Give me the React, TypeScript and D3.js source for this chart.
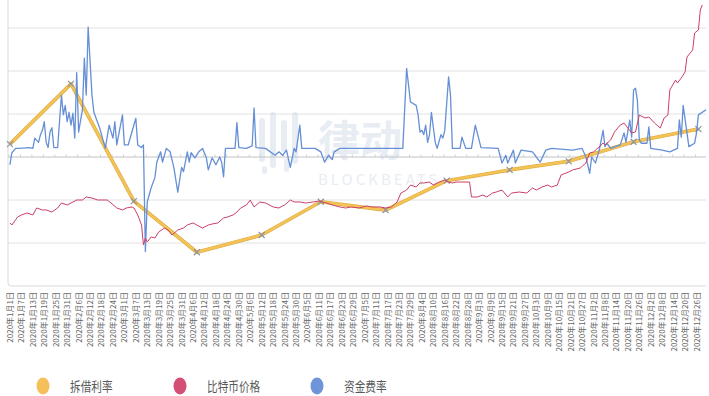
import React from 'react';
import * as d3 from 'd3';

// 拆借利率 (monthly points), day index from 2020-01-01
const lendDays = [0, 32, 65, 98, 132, 163, 197, 229, 262, 293, 327, 361];
const lendRate = [6.6, 9.4, 3.95, 1.57, 2.37, 3.92, 3.53, 4.9, 5.4, 5.8, 6.71, 7.3];

// 比特币价格 (USD)
const btcDays = [0, 1, 4, 6, 9, 12, 14, 17, 19, 22, 25, 27, 30, 32, 35, 38, 40, 43, 46, 48, 51, 53, 56, 59, 61, 64, 65, 67, 69, 70,
  71, 72, 74, 76, 78, 81, 83, 85, 88, 91, 93, 96, 98, 101, 104, 106, 109, 112, 114, 117, 119, 121, 124, 126, 128, 131, 134, 138,
  141, 144, 147, 149, 152, 155, 159, 162, 166, 169, 173, 176, 179, 183, 187, 190, 194, 197, 200, 203, 205, 208, 210, 213, 215,
  217, 220, 222, 225, 228, 230, 232, 234, 237, 241, 242, 245, 248, 250, 253, 255, 258, 261, 263, 267, 271, 274, 276, 279, 282,
  284, 287, 289, 293, 295, 299, 302, 304, 306, 307, 309, 311, 312, 315, 317, 320, 322, 324, 326, 328, 330, 333, 335, 338, 341,
  343, 345, 346, 349, 350, 352, 354, 355, 358, 359, 361, 362, 363];
const btcPrice = [7330, 7090, 8020, 8260, 8490, 8260, 9070, 8840, 8840, 8600, 9070, 9650, 9420, 9650, 10000, 10000, 10350, 10230,
  10000, 10000, 10000, 9650, 9070, 8840, 9070, 9190, 9070, 8260, 7090, 4770,
  5580, 5120, 5700, 5580, 6280, 6740, 6510, 5930, 6510, 6740, 7090, 7330, 7090, 6740, 7090, 7210, 7330, 7910, 8020, 8260, 8600,
  9070, 9420, 10000, 9190, 9770, 9650, 9190,
  9070, 9420, 10000, 9770, 9770, 9650, 9770, 9880, 9650, 9420, 9190, 9070, 9190, 9070, 9300, 9190, 9190, 9070, 9190, 9770,
  10810, 11160, 11740, 11510, 11980,
  11980, 12090, 11740, 12090, 12330, 12090, 11980, 12090, 12090, 12090, 10350, 10350, 10580, 10350, 10810, 10930, 11160, 10350,
  10810, 10930, 10810, 11400, 11160, 11510, 11740,
  11510, 11740, 12910, 13260, 13490, 13720, 14300, 15470, 15580, 15810, 16160, 16630, 16400, 16980, 17910, 18720, 18950, 18370,
  17790, 17910, 19880, 19530, 19650, 18950, 18370,
  19530, 19880, 22790, 23950, 23600, 24190, 24880, 26630, 27440, 29420, 29770, 32090, 32670];

// 资金费率 (%)
const fundDays = [0, 1, 3, 5, 10, 12, 13, 15, 16, 17, 18, 19, 20, 21, 22, 23, 25, 27, 28, 29, 30, 31, 32, 33, 34, 35, 36, 38,
  39, 40, 41, 43, 44, 47, 50, 52, 54, 55, 56, 59, 60, 62, 66, 67, 69, 70, 71, 72, 74, 76, 77, 79, 80, 82, 84, 86, 88, 90, 91,
  93, 94, 95, 97, 99, 101, 103, 104, 106, 108, 110, 111, 112, 113, 118, 119, 120, 124, 127, 128, 129, 134, 139, 141, 143, 145,
  147, 149, 150, 152, 153, 160, 163, 165, 167, 169, 170, 173, 206, 208, 210, 213, 214, 215, 216, 217, 218, 219, 220, 221, 223,
  224, 226, 227, 228, 230, 231, 232, 236, 237, 239, 242, 244, 247, 256, 258, 260, 261, 264, 265, 268, 274, 278, 281, 284, 295,
  300, 302, 304, 305, 307, 309, 311, 312, 313, 315, 320, 322, 323, 325, 326, 327, 328, 329, 330, 331, 334, 335, 336, 342, 346,
  350, 351, 352, 353, 355, 356, 359, 360, 361, 365];
const fundRate = [-0.009, 0.005, 0.01, 0.01, 0.011, 0.01, 0.022, 0.017, 0.026, 0.031, 0.041, 0.017, 0.011, 0.029, 0.034, 0.011,
  0.011, 0.072, 0.049, 0.06, 0.041, 0.052, 0.037, 0.051, 0.022, 0.098, 0.029, 0.055,
  0.115, 0.072, 0.151, 0.072, 0.052, 0.034, 0.01, 0.037, 0.022, 0.041, 0.014, 0.049, 0.014, 0.014, 0.045, 0.014, 0.011, 0.014,
  -0.11, -0.052, -0.036, -0.024, -0.006, 0.006, -0.006, 0.01, 0.006, -0.013, -0.041, -0.012, -0.017,
  0.006, -0.006, 0.005, -0.001, 0.006, 0.01, -0.001, -0.015, -0.001, -0.009, 0, -0.006, -0.023, 0.01, 0.01, 0.04, 0.011, 0.01,
  0.013, 0.057, 0.011, 0.01, 0.002, 0.006, 0.002, 0.008,
  -0.012, 0.01, 0.006, 0.037, 0.01, 0.01, 0.006, -0.006, 0.002, -0.003, 0.006, 0.01, 0.01, 0.103, 0.064, 0.06, 0.049, 0.029,
  0.031, 0.026, 0.037, 0.017, 0.026, 0.052, 0.017,
  0.01, 0.026, 0.022, 0.031, 0.093, 0.072, 0.01, 0.01, 0.023, 0.01, 0.01, 0.037, 0.011, 0.01, -0.007, 0.002, -0.007, 0.008,
  -0.007, 0.008, 0.006, -0.006, 0.008, 0.01, 0.008,
  0.01, 0, -0.019, 0, -0.007, 0.008, 0.031, 0.012, 0.016, 0.01, 0.014, 0.028, 0.017, 0.043, 0.023, 0.078, 0.08, 0.066, 0.02,
  0.016, 0.016, 0.035, 0.01, 0.008, 0.006,
  0.01, 0.043, 0.023, 0.06, 0.028, 0.012, 0.016, 0.028, 0.049, 0.055];

const legendNames = ['拆借利率', '比特币价格', '资金费率'];
const legendColors = ['#F5C05A', '#D44F76', '#6E95DA'];

const start = new Date(2020, 0, 1);
const labelDays = d3.range(0, 366, 6);
const fmtDay = (d: number) => {
  const t = d3.timeDay.offset(start, d);
  return `2020年${t.getMonth() + 1}月${t.getDate()}日`;
};

const font = '"Noto Sans CJK SC", "Noto Sans", sans-serif';

export default function App() {
  const x = d3.scaleLinear().domain([-0.5, 365.5]).range([9, 707]);
  const yBtc = d3.scaleLinear().domain([0, 30000]).range([286, 28]);
  const yFund = d3.scaleLinear().domain([-0.15, 0.15]).range([286, 28]);
  const yLend = d3.scaleLinear().domain([0, 12]).range([286, 28]);

  const lendLine = d3.line<number>().x((_, i) => x(lendDays[i])).y(v => yLend(v));
  const btcLine = d3.line<number>().x((_, i) => x(btcDays[i])).y(v => yBtc(v));
  const fundLine = d3.line<number>().x((_, i) => x(fundDays[i])).y(v => yFund(v));

  const gridVals = d3.range(5000, 30001, 5000);
  const zeroY = yFund(0);

  return (
    <svg width={709} height={396} style={{ position: 'absolute', left: 0, top: 0, background: '#fff' }}>
      {/* grid */}
      {gridVals.map(v => (
        <line key={v} x1={8} x2={706} y1={yBtc(v)} y2={yBtc(v)} stroke="#e2e2e2" strokeWidth={1} />
      ))}
      <path d={`M8,0 V283 Q8,286 11,286 H706`} fill="none" stroke="#d9d9d9" strokeWidth={1} />
      <line x1={8} x2={706} y1={zeroY} y2={zeroY} stroke="#d0d0d0" strokeWidth={1} />
      {labelDays.map(d => (
        <line key={d} x1={x(d - 0.5)} x2={x(d - 0.5)} y1={zeroY - 2.5} y2={zeroY} stroke="#d0d0d0" strokeWidth={1} />
      ))}

      {/* watermark */}
      <g opacity={0.38} fill="#c3cfe2">
        <rect x={259} y={118} width={6} height={44} rx={3} />
        <rect x={270} y={112} width={6} height={56} rx={3} />
        <rect x={281} y={120} width={6} height={32} rx={3} />
        <rect x={292} y={112} width={6} height={52} rx={3} />
        <rect x={262} y={166} width={5} height={8} rx={2.5} />
        <rect x={284} y={158} width={5} height={14} rx={2.5} />
        <text x={318} y={156} fontSize={42} fontFamily={font} fontWeight="bold">律动</text>
        <text x={318} y={185} fontSize={15} fontFamily={font} letterSpacing={3}>BLOCKBEATS</text>
      </g>

      {/* series */}
      <path d={lendLine(lendRate) || ''} fill="none" stroke="#dcaa40" strokeWidth={3.6} strokeLinejoin="round" />
      <path d={lendLine(lendRate) || ''} fill="none" stroke="#f4c356" strokeWidth={2.4} strokeLinejoin="round" />
      {lendRate.map((v, i) => {
        const cx = x(lendDays[i]), cy = yLend(v);
        return (
          <path key={i} d={`M${cx - 3},${cy - 3}L${cx + 3},${cy + 3}M${cx - 3},${cy + 3}L${cx + 3},${cy - 3}`}
            stroke="#8c93a6" strokeWidth={1.2} fill="none" />
        );
      })}
      <path d={fundLine(fundRate) || ''} fill="none" stroke="#658fd6" strokeWidth={1.3} strokeLinejoin="round" />
      <path d={btcLine(btcPrice) || ''} fill="none" stroke="#cc3f68" strokeWidth={1} strokeLinejoin="round" />

      {/* x labels */}
      {labelDays.map(d => (
        <text key={d} transform={`translate(${x(d) + 3},292) rotate(-90)`} textAnchor="end"
          fontSize={8} fontFamily={font} fill="#666">{fmtDay(d)}</text>
      ))}

      {/* legend */}
      {legendNames.map((n, i) => {
        const cx = [43, 180, 317][i];
        return (
          <g key={n}>
            <ellipse cx={cx} cy={386} rx={6.5} ry={8.5} fill={legendColors[i]} />
            <text transform={`translate(${cx + 27},391) scale(0.82,1)`} fontSize={13} fontFamily={font} fill="#595959">{n}</text>
          </g>
        );
      })}
    </svg>
  );
}
